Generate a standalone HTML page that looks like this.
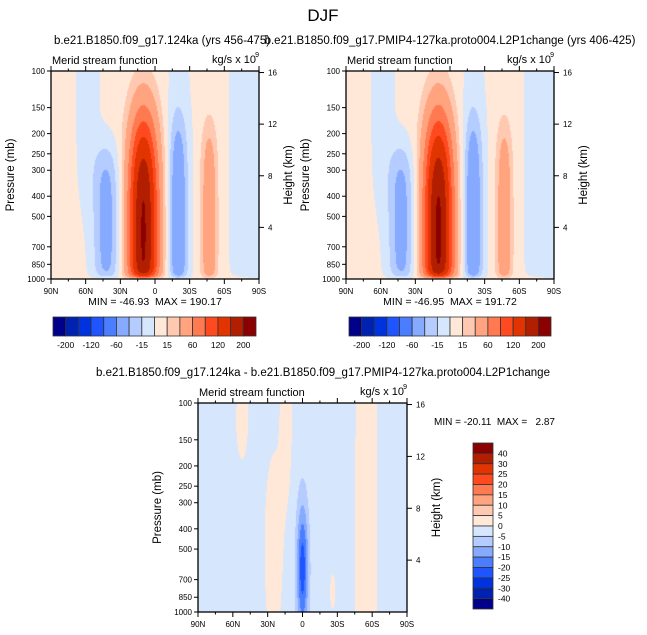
<!DOCTYPE html>
<html><head><meta charset="utf-8"><style>
body{margin:0;background:#fff;width:647px;height:635px;overflow:hidden;position:relative;font-family:"Liberation Sans",sans-serif}
canvas{position:absolute}
svg{position:absolute;left:0;top:0}
svg text{white-space:pre}
</style></head><body>
<canvas id="c1" width="208" height="208" style="left:51px;top:71px"></canvas>
<canvas id="c2" width="208" height="208" style="left:346px;top:71px"></canvas>
<canvas id="c3" width="209" height="209" style="left:198px;top:403px"></canvas>
<svg id="s" width="647" height="635">
<text x="323" y="21" font-size="17" text-anchor="middle">DJF</text>
<text x="162" y="44" font-size="11.5" text-anchor="middle">b.e21.B1850.f09_g17.124ka (yrs 456-475)</text>
<text x="450" y="44" font-size="11.5" text-anchor="middle">b.e21.B1850.f09_g17.PMIP4-127ka.proto004.L2P1change (yrs 406-425)</text>
<text x="323" y="376" font-size="11.5" text-anchor="middle">b.e21.B1850.f09_g17.124ka - b.e21.B1850.f09_g17.PMIP4-127ka.proto004.L2P1change</text>
<text x="434" y="425" font-size="10">MIN = -20.11  MAX =   2.87</text>
</svg>
<script>
const latTicks=["90N","60N","30N","0","30S","60S","90S"];
const presTicks=[100,150,200,250,300,400,500,700,850,1000];
const kmTicks=[4,8,12,16];
const levels1=[-200,-160,-120,-90,-60,-30,-15,0,15,30,60,90,120,160,200];
const levelLabels1=["-200","-120","-60","-15","15","60","120","200"];
const levels3=[-40,-30,-25,-20,-15,-10,-5,0,5,10,15,20,25,30,40];
const levelLabels3=["-40","-30","-25","-20","-15","-10","-5","0","5","10","15","20","25","30","40"];
const colors=["#00008b","#0022b0","#0033e0","#1e55ff","#4a7eff","#86aaff","#b4ccff","#d6e6fc","#ffe8d8","#ffc8b0","#ffa47e","#ff7a50","#ff4a20","#e23400","#b21e00","#8b0000"];
// panel 1 cells
const p1Lat=[10,42,-20,-47,58,-20,-90];
const p1Pres=[600,550,560,560,100,500,500];
const p1Amp=[200,-42,-48,45,-9,-8,-12];
const p1LatW=[9,8,5.5,5,8,8,17.5];
const p1PresW=[0.45,0.32,0.44,0.42,0.6,2,2];
const p1Pow=[3,4,4,4,4,4,4];
const p1Base=4;
// panel 2 cells
const p2Lat=[10,42,-20,-47,58,-20,-90];
const p2Pres=[600,550,560,560,100,500,500];
const p2Amp=[202,-42,-48,45,-9,-8,-12];
const p2LatW=[9,8,5.5,5,8,8,17.5];
const p2PresW=[0.45,0.32,0.44,0.42,0.6,2,2];
const p2Pow=[3,4,4,4,4,4,4];
const p2Base=4;
// difference cells
const p3Lat=[0,-55,25,52,14,-26];
const p3Pres=[620,400,500,120,120,800];
const p3Amp=[-21,5,4.5,4.5,4,3.5];
const p3LatW=[3.5,7,6,4,4,2];
const p3PresW=[0.22,2,0.35,0.15,0.3,0.08];
const p3Pow=[2,2,2,2,2,2];
const p3Base=-2;

function fieldVal(lat,p,L,P,A,LW,PW,PO,base,taper){
  let v=0;const z=Math.log10(p);
  for(let i=0;i<L.length;i++){const dl=(lat-L[i])/LW[i],dz=Math.abs((z-Math.log10(P[i]))/PW[i]);v+=A[i]*Math.exp(-0.5*(dl*dl+Math.pow(dz,PO[i])));}
  if(taper)v*=1-Math.exp(-(1000-p)/35);
  return v+base;
}
function colorFor(v,lev){let i=0;while(i<lev.length&&v>=lev[i])i++;return colors[i];}
function drawField(id,L,P,A,LW,PW,PO,base,lev,taper){
  const c=document.getElementById(id),ctx=c.getContext('2d'),W=c.width,H=c.height;
  for(let y=0;y<H;y++){const p=100*Math.pow(10,(y+0.5)/H);
    for(let x=0;x<W;x++){const lat=90-180*(x+0.5)/W;
      ctx.fillStyle=colorFor(fieldVal(lat,p,L,P,A,LW,PW,PO,base,taper),lev);ctx.fillRect(x,y,1,1);}}
}
drawField('c1',p1Lat,p1Pres,p1Amp,p1LatW,p1PresW,p1Pow,p1Base,levels1,true);
drawField('c2',p2Lat,p2Pres,p2Amp,p2LatW,p2PresW,p2Pow,p2Base,levels1,true);
drawField('c3',p3Lat,p3Pres,p3Amp,p3LatW,p3PresW,p3Pow,p3Base,levels3,false);

const S=document.getElementById('s'),NS='http://www.w3.org/2000/svg';
function mk(tag,at,txt){const e=document.createElementNS(NS,tag);for(const k in at)e.setAttribute(k,at[k]);if(txt!==undefined)e.textContent=txt;S.appendChild(e);return e;}
function axes(x0,y0,w,h,tag,minmax){
  const ys=p=>y0+h*Math.log10(p/100);
  let e=mk('rect',{x:x0,y:y0,width:w,height:h,fill:'none',stroke:'#000','stroke-width':1.3});
  
  
  for(let i=0;i<=12;i++){const x=x0+w*i/12,len=i%2?2.5:5;
    mk('line',{x1:x,x2:x,y1:y0+h,y2:y0+h+len,stroke:'#000'});mk('line',{x1:x,x2:x,y1:y0,y2:y0-len,stroke:'#000'});}
  latTicks.forEach((t,i)=>{e=mk('text',{x:x0+w*i/6,y:y0+h+15,'font-size':8,'text-anchor':'middle'},t);
    
    });
  presTicks.forEach(p=>{const y=ys(p);mk('line',{x1:x0-4,x2:x0,y1:y,y2:y,stroke:'#000'});
    e=mk('text',{x:x0-6,y:y+3,'font-size':8,'text-anchor':'end'},p);
    
    });
  kmTicks.forEach(k=>{const p=1000*Math.exp(-k/7);const y=ys(p);mk('line',{x1:x0+w,x2:x0+w+5,y1:y,y2:y,stroke:'#000'});
    e=mk('text',{x:x0+w+9,y:y+3,'font-size':8},k);
    
    });
  e=mk('text',{transform:`translate(${x0-37},${y0+h/2}) rotate(-90)`,'font-size':11.5,'text-anchor':'middle'},'Pressure (mb)');
  
  
  e=mk('text',{transform:`translate(${x0+w+33},${y0+h/2}) rotate(-90)`,'font-size':11.5,'text-anchor':'middle'},'Height (km)');
  
  
  e=mk('text',{x:x0+1,y:y0-7,'font-size':11},'Merid stream function');
  
  
  e=mk('text',{x:x0+w-3,y:y0-8,'font-size':11,'text-anchor':'end'},'kg/s x 10');
  
  
  mk('text',{x:x0+w,y:y0-14,'font-size':7,'text-anchor':'end'},'9');
  if(minmax){e=mk('text',{x:x0+w/2,y:y0+h+26,'font-size':10.5,'text-anchor':'middle'},minmax);
    
    }
}
axes(51,71,208,208,'panel1','MIN = -46.93  MAX = 190.17');
axes(346,71,208,208,'panel2','MIN = -46.95  MAX = 191.72');
axes(198,403,209,209,'diff',null);
function hbar(x0,y0,w,h,tag){
  const bw=w/16;
  colors.forEach((c,i)=>{const e=mk('rect',{x:x0+i*bw,y:y0,width:bw,height:h,fill:c,stroke:'#333','stroke-width':0.8});
    
    });
  levelLabels1.forEach((t,i)=>{const e=mk('text',{x:x0+bw*(2*i+1),y:y0+h+12,'font-size':8.5,'text-anchor':'middle'},t);
    
    });
}
hbar(53,317,203,19,'panel1');
hbar(349,317,202,19,'panel2');
(function(){const x0=473,y0=443,w=20,h=166,bh=h/16;
  colors.slice().reverse().forEach((c,i)=>{const e=mk('rect',{x:x0,y:y0+i*bh,width:w,height:bh,fill:c,stroke:'#333','stroke-width':0.8});
    
    });
  levelLabels3.slice().reverse().forEach((t,i)=>{const e=mk('text',{x:x0+w+5,y:y0+bh*(i+1)+3,'font-size':8.5},t);
    
    });
})();
</script>
</body></html>
